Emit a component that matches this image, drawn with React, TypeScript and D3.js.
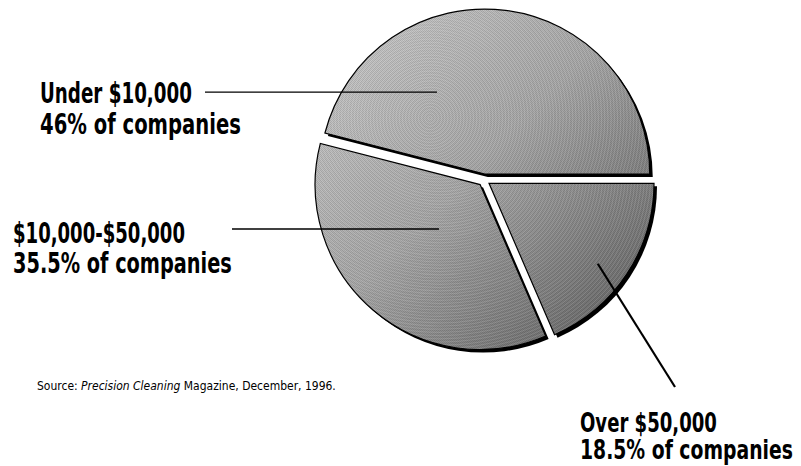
import React, { useLayoutEffect, useRef, useState } from "react";
import * as d3 from "d3";

// ---- data ----
const categories = ["Under $10,000", "$10,000-$50,000", "Over $50,000"];
const shares = [46, 35.5, 18.5];
const shareLabels = ["46% of companies", "35.5% of companies", "18.5% of companies"];
const sourcePrefix = "Source: ";
const sourceTitle = "Precision Cleaning";
const sourceRest = " Magazine, December, 1996.";

const W = 801;
const H = 466;
const cx = 484;
const cy = 180;
const R = 165;
const explode = 6;

// label layout (annotation positions)
const labelX = [40, 13, 580];
const labelY = [103, 243, 432];
const labelW1 = [152, 172, 137];
const labelW2 = [201, 219, 213];
const lineGap = [31, 30, 27];
const labelSize = [28, 28, 26];
// leader targets in polar coords relative to slice apex (deg, fraction of R)
const leaderAngle = [329.8, 222.8, 126.5];
const leaderFrac = [0.575, 0.367, 0.82];

function FitText(props: { x: number; y: number; width: number; children: React.ReactNode; [k: string]: any }) {
  const { x, y, width, children, ...rest } = props;
  const ref = useRef<SVGTextElement>(null);
  const [sx, setSx] = useState(1);
  useLayoutEffect(() => {
    if (ref.current) {
      const n = ref.current.getComputedTextLength();
      if (n > 0) setSx(width / n);
    }
  }, [width]);
  return (
    <text ref={ref} transform={`translate(${x},${y}) scale(${sx},1)`} {...rest}>
      {children}
    </text>
  );
}

export default function App() {
  const pie = d3
    .pie<number>()
    .sort(null)
    .value((d) => d)
    .startAngle(Math.PI / 2)
    .endAngle(Math.PI / 2 - 2 * Math.PI);
  const arcs = pie(shares);
  const arc = d3.arc<d3.PieArcDatum<number>>().innerRadius(0).outerRadius(R);

  const font = "'Liberation Sans Narrow', 'DejaVu Sans Condensed', 'Arial Narrow', sans-serif";

  const slices = arcs.map((a, i) => {
    const mid = (a.startAngle + a.endAngle) / 2;
    const ox = cx + Math.sin(mid) * explode;
    const oy = cy - Math.cos(mid) * explode;
    const la = (leaderAngle[i] * Math.PI) / 180;
    const tx = ox + Math.sin(la) * R * leaderFrac[i];
    const ty = oy - Math.cos(la) * R * leaderFrac[i];
    return { a, ox, oy, tx, ty, d: arc(a) as string };
  });

  const rings = d3.range(2, 2 * R + 40, 3.2);
  const ringCenters = [
    [430, 118],
    [440, 100],
    [470, 170],
  ];

  return (
    <svg
      width={W}
      height={H}
      viewBox={`0 0 ${W} ${H}`}
      style={{ position: "absolute", left: 0, top: 0, background: "#fff" }}
    >
      <defs>
        <linearGradient id="pieShade" gradientUnits="userSpaceOnUse" x1={-150} y1={-160} x2={166} y2={168}>
          <stop offset="0" stopColor="#cccccc" />
          <stop offset="0.45" stopColor="#a8a8a8" />
          <stop offset="1" stopColor="#585858" />
        </linearGradient>
        <pattern id="chk" width={2} height={2} patternUnits="userSpaceOnUse">
          <rect x={0} y={0} width={1} height={1} fill="#000" opacity={0.12} />
          <rect x={1} y={1} width={1} height={1} fill="#000" opacity={0.12} />
        </pattern>
        {slices.map((s, i) => (
          <clipPath id={`clip${i}`} key={i}>
            <path d={s.d} transform={`translate(${s.ox},${s.oy})`} />
          </clipPath>
        ))}
      </defs>

      {/* shadows */}
      {slices.map((s, i) => (
        <path key={`sh${i}`} d={s.d} transform={`translate(${s.ox + 3},${s.oy + 3})`} fill="#000" />
      ))}

      {/* slices */}
      {slices.map((s, i) => (
        <g key={`sl${i}`}>
          <path d={s.d} transform={`translate(${s.ox},${s.oy})`} fill="url(#pieShade)" />
          <g clipPath={`url(#clip${i})`}>
            <rect x={0} y={0} width={W} height={H} fill="url(#chk)" />
            {rings.map((r) => (
              <circle
                key={r}
                cx={ringCenters[i][0]}
                cy={ringCenters[i][1]}
                r={r}
                fill="none"
                stroke="#fff"
                strokeOpacity={0.13}
                strokeWidth={1.2}
              />
            ))}
          </g>
          <path
            d={s.d}
            transform={`translate(${s.ox},${s.oy})`}
            fill="none"
            stroke="#000"
            strokeWidth={1.2}
          />
        </g>
      ))}

      {/* leader lines */}
      {slices.map((s, i) => {
        const x1 = i === 2 ? labelX[i] + 95 : labelX[i] + labelW1[i] + (i === 0 ? 13 : 47);
        const y1 = i === 2 ? labelY[i] - 45 : s.ty;
        return (
          <line
            key={`ld${i}`}
            x1={x1}
            y1={y1}
            x2={s.tx}
            y2={s.ty}
            stroke="#000"
            strokeWidth={i === 2 ? 2.2 : 1.3}
          />
        );
      })}

      {/* labels */}
      {categories.map((c, i) => (
        <g key={`lb${i}`} fontFamily={font} fontWeight="bold" fontSize={labelSize[i]} fill="#000">
          <FitText x={labelX[i]} y={labelY[i]} width={labelW1[i]}>
            {c}
          </FitText>
          <FitText x={labelX[i]} y={labelY[i] + lineGap[i]} width={labelW2[i]}>
            {shareLabels[i]}
          </FitText>
        </g>
      ))}

      {/* source */}
      <FitText x={37} y={390} width={299} fontFamily={font} fontSize={13} fill="#000">
        {sourcePrefix}
        <tspan fontStyle="italic">{sourceTitle}</tspan>
        {sourceRest}
      </FitText>
    </svg>
  );
}
